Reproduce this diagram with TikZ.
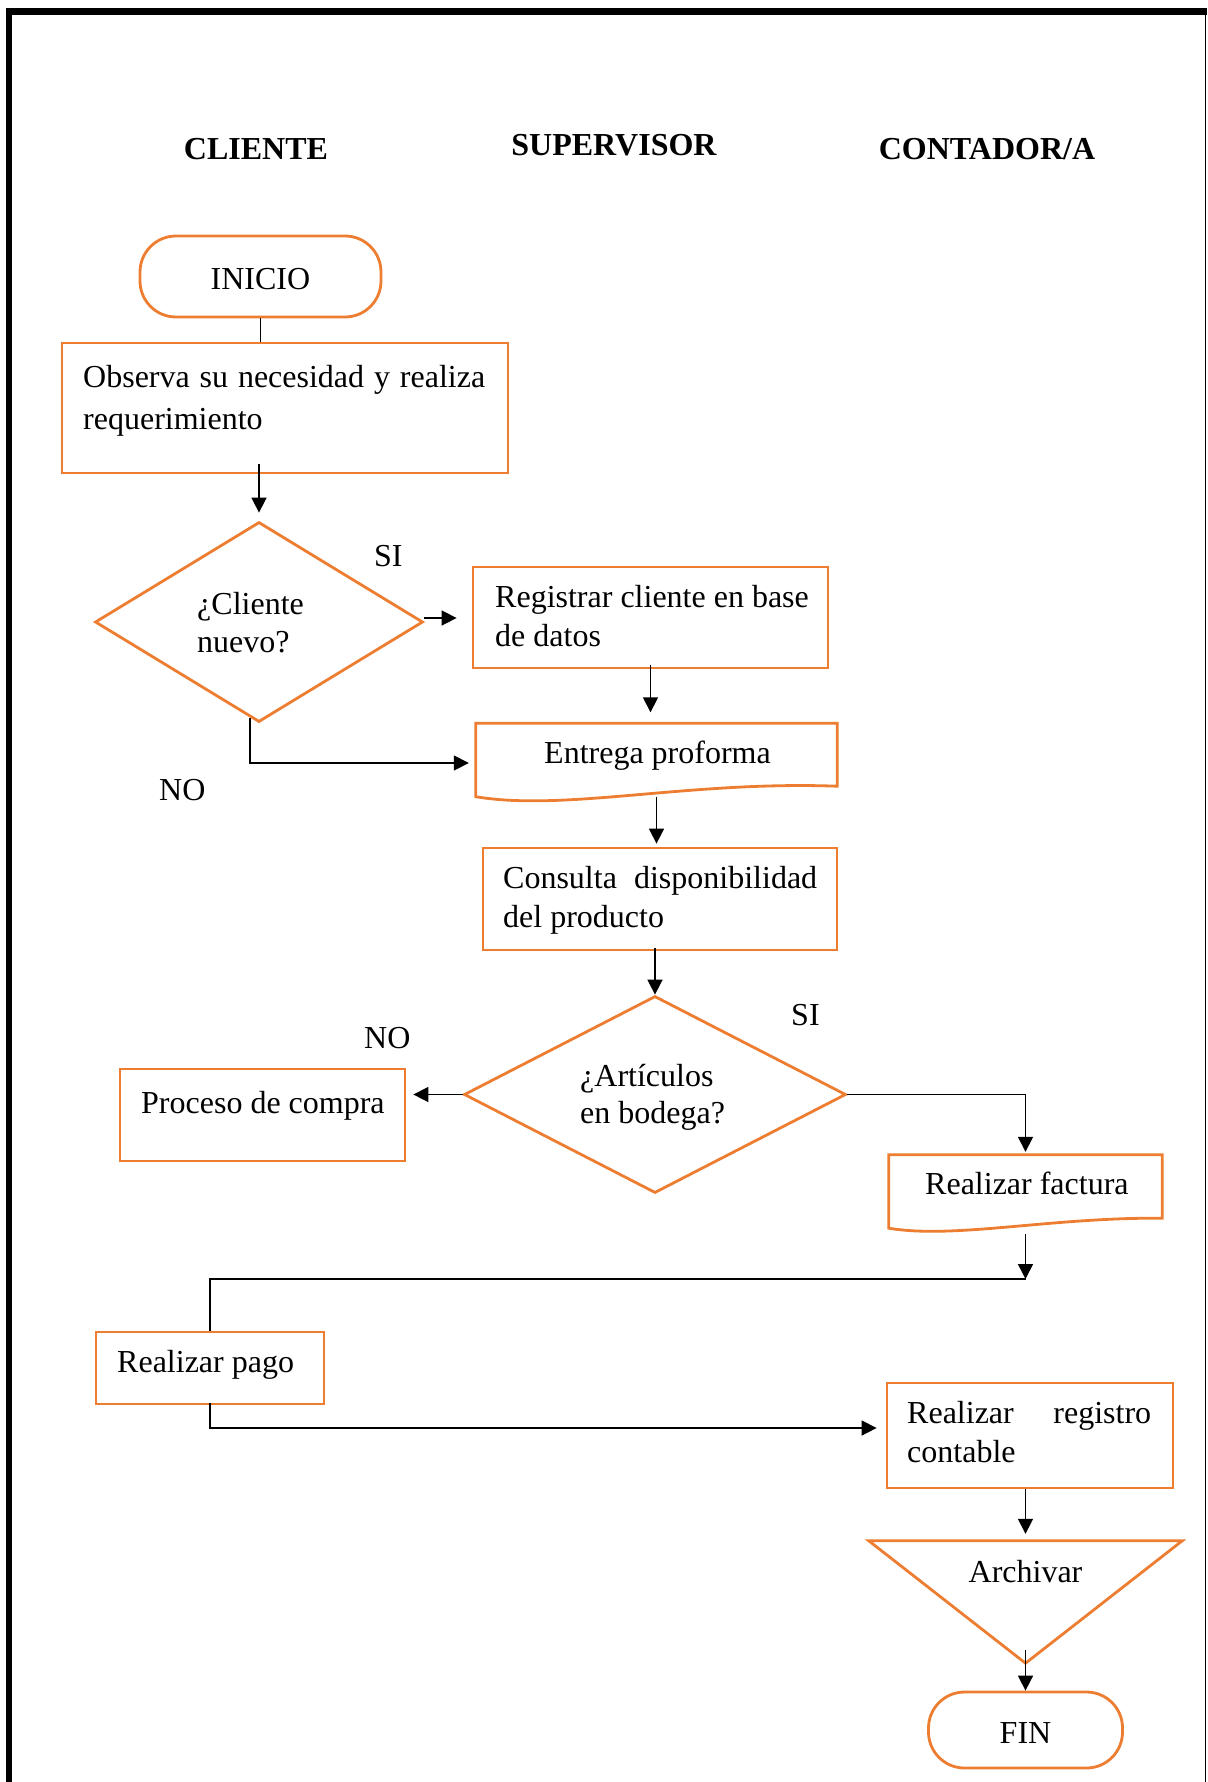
\documentclass[tikz,border=0pt]{standalone}
\usepackage{fontspec}
\setmainfont{Liberation Serif}
\usetikzlibrary{shapes.geometric,arrows.meta,calc}
\definecolor{boxorange}{HTML}{ED7D31}
% a line stretched to a fixed width (justified)
\newcommand\jline[2]{\hbox to #1{\spaceskip=0pt plus 1fil\relax #2}}
% two lines with a given baseline distance, baseline at the first line
\newcommand\twoln[3]{\vtop{\baselineskip=#1\lineskiplimit=-100pt\hbox{#2}\hbox{#3}}}

\begin{document}
\begin{tikzpicture}[x=1pt,y=-1pt,
  every node/.style={font=\fontsize{32}{38.4}\selectfont, inner sep=0pt},
  obox/.style={draw=boxorange, line width=2.8pt, rectangle},
  oline/.style={draw=boxorange, line width=2.8pt, line join=miter},
  term/.style={draw=boxorange, line width=2.8pt, rectangle, rounded corners=36pt},
  decision/.style={draw=boxorange, line width=2.8pt, diamond},
  conn/.style={draw=black, line width=1.6pt},
  arr/.style={conn, -{Triangle[length=15pt,width=15pt]}},
  txt/.style={anchor=base west},
  ctxt/.style={anchor=base},
  head/.style={anchor=base, font=\fontsize{32}{38.4}\selectfont\bfseries}]

\useasboundingbox (0,0) rectangle (1207,1782);

% page frame
\draw[line width=6.5pt, line join=miter] (9,1782) -- (9,11.3) -- (1207,11.3);
\draw[line width=1.6pt] (1205.5,11.3) -- (1205.5,1782);

% column headings
\node[head] (hcli) at (256,160) {CLIENTE};
\node[head] (hsup) at (614,155) {SUPERVISOR};
\node[head] (hcon) at (987,160) {CONTADOR/A};

% shapes
\node[term, minimum width=241pt, minimum height=81pt] (inicio) at (260.5,276.5) {};
\node[obox, minimum width=446pt, minimum height=130pt] (obs) at (285,408) {};
\node[decision, minimum width=328pt, minimum height=200pt] (d1) at (259,622) {};
\node[obox, minimum width=355pt, minimum height=101pt] (reg) at (650.5,617.5) {};
\node[minimum width=361pt, minimum height=73pt] (ent) at (656.5,760) {};
\node[obox, minimum width=354pt, minimum height=102pt] (cons) at (660,899) {};
\node[decision, minimum width=382pt, minimum height=197pt] (d2) at (655,1094.5) {};
\node[obox, minimum width=285pt, minimum height=92pt] (proc) at (262.5,1115) {};
\node[minimum width=273pt, minimum height=73pt] (fact) at (1025.5,1191.5) {};
\node[obox, minimum width=228pt, minimum height=72pt] (pago) at (210,1368) {};
\node[obox, minimum width=286pt, minimum height=105pt] (regc) at (1030,1435.5) {};
\node[minimum width=313pt, minimum height=122pt] (arch) at (1025.5,1602) {};
\node[term, minimum width=194pt, minimum height=76pt] (fin) at (1025.5,1730) {};

% document outlines (wavy bottom)
\draw[oline] (ent.north west) -- (ent.north east) -- ($(ent.south east)+(0,-10.5)$)
  .. controls ($(ent.south east)+(-150,-16)$) and ($(ent.south west)+(90,15)$) .. (ent.south west) -- cycle;
\draw[oline] (fact.north west) -- (fact.north east) -- ($(fact.south east)+(0,-10)$)
  .. controls ($(fact.south east)+(-112,-11)$) and ($(fact.south west)+(66,11)$) .. (fact.south west) -- cycle;
% archive triangle
\draw[oline] (arch.north west) -- (arch.north east) -- (arch.south) -- cycle;

% texts
\node[ctxt] (tinicio) at (260.5,289) {INICIO};
\node[txt] (tobs) at (83,387) {\twoln{42pt}{\jline{402pt}{Observa su necesidad y realiza}}{requerimiento}};
\node[txt] (td1) at (197,614) {\twoln{38pt}{¿Cliente}{nuevo?}};
\node[txt] (si1) at (374,566) {SI};
\node[txt] (no1) at (159,800) {NO};
\node[txt] (treg) at (495,607) {\twoln{39pt}{Registrar cliente en base}{de datos}};
\node[txt] (tent) at (544,763) {Entrega proforma};
\node[txt] (tcons) at (503,888) {\twoln{39pt}{\jline{314pt}{Consulta disponibilidad}}{del producto}};
\node[txt] (td2) at (580,1086) {\twoln{37pt}{¿Artículos}{en bodega?}};
\node[txt] (si2) at (791,1025) {SI};
\node[txt] (no2) at (364,1048) {NO};
\node[txt] (tproc) at (141,1113) {Proceso de compra};
\node[txt] (tfact) at (925,1194) {Realizar factura};
\node[txt] (tpago) at (117,1372) {Realizar pago};
\node[txt] (tregc) at (907,1423) {\twoln{39pt}{\jline{244pt}{Realizar registro}}{contable}};
\node[ctxt] (tarch) at (1025.5,1582) {Archivar};
\node[ctxt] (tfin) at (1025.5,1743) {FIN};

% connectors
\coordinate (d1no) at ($(d1.south)!0.055!(d1.west)$);
\coordinate (jn) at (fact.south |- 0,1279);

\draw[conn] (inicio.south) -- (inicio.south |- obs.north);
\draw[arr, shorten <=-10pt, shorten >=8pt] (obs.south -| d1.north) -- (d1.north);
\draw[arr, shorten >=15pt] ([yshift=4pt]d1.east) -- ([yshift=4pt]d1.east -| reg.west);
\draw[arr, shorten >=7pt] (d1no) |- ([yshift=-3pt]ent.west);
\draw[arr, shorten <=-4pt, shorten >=11pt] (reg.south) -- (reg.south |- ent.north);
\draw[arr, shorten >=3pt] (ent.south) -- (ent.south |- cons.north);
\draw[arr, shorten <=-3pt] (d2.north |- cons.south) -- (d2.north);
\draw[arr, shorten >=7pt] (d2.west) -- (d2.west -| proc.east);
\draw[arr, shorten >=3pt] (d2.east) -| (fact.north);
\draw[arr, shorten <=6pt] (fact.south) -- (jn);
\draw[conn] (jn) -| (pago.north);
\draw[arr, shorten <=-2pt, shorten >=9pt] (pago.south) |- ([yshift=7.5pt]regc.west);
\draw[arr, shorten >=7pt] (arch.north |- regc.south) -- (arch.north);
\draw[arr, shorten <=-13pt] (arch.south) -- (fin.north);
\end{tikzpicture}
\end{document}
